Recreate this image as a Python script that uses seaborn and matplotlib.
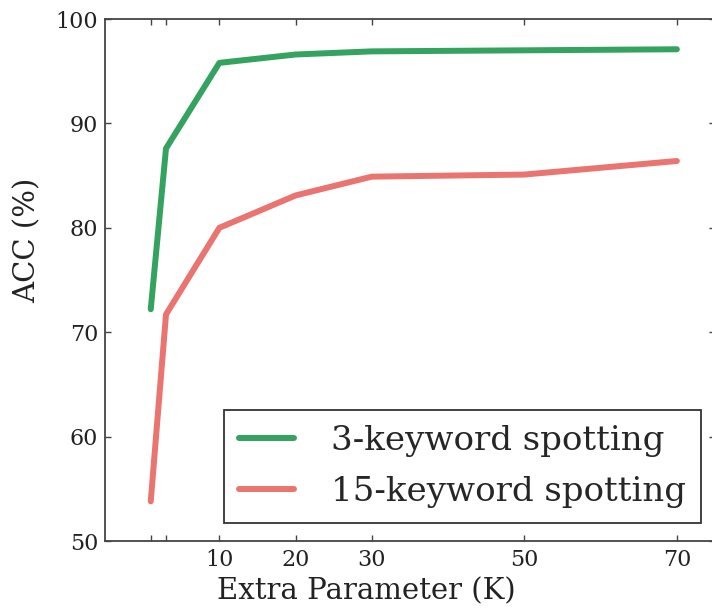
import matplotlib
matplotlib.use("Agg")
import matplotlib.pyplot as plt
import seaborn as sns
import pandas as pd

# Data
extra_params = [1, 3, 10, 20, 30, 50, 70]
acc_3kw = [72.2, 87.6, 95.8, 96.6, 96.9, 97.0, 97.1]
acc_15kw = [53.8, 71.7, 80.0, 83.1, 84.9, 85.1, 86.4]
series_names = ["3-keyword spotting", "15-keyword spotting"]
tick_positions = [1, 3, 10, 20, 30, 50, 70]
tick_labels = ["", "", "10", "20", "30", "50", "70"]
y_ticks = [50, 60, 70, 80, 90, 100]

df = pd.DataFrame({
    "K": extra_params * 2,
    "ACC": acc_3kw + acc_15kw,
    "series": [series_names[0]] * len(extra_params) + [series_names[1]] * len(extra_params),
})

sns.set_style("ticks")
plt.rcParams["font.family"] = ["DejaVu Serif"]

fig = plt.figure(figsize=(7.12, 6.10), dpi=100)
ax = fig.add_axes([105 / 712, 69 / 610, 610 / 712, 522 / 610])

palette = {series_names[0]: "#33a35f", series_names[1]: "#ea7470"}
sns.lineplot(data=df, x="K", y="ACC", hue="series", palette=palette,
             linewidth=4.3, ax=ax, legend=True)

ax.set_xlim(-5, 75)
ax.set_ylim(50, 100)
ax.set_xticks(tick_positions)
ax.set_xticklabels(tick_labels)
ax.set_yticks(y_ticks)
ax.tick_params(direction="in", length=4, width=1, colors="#444444",
               labelcolor="#222222", labelsize=16, top=True, right=True)
ax.tick_params(axis="x", pad=6)
ax.tick_params(axis="y", pad=5)

for s in ax.spines.values():
    s.set_visible(True)
    s.set_linewidth(1.3)
    s.set_color("#444444")

ax.set_xlabel("Extra Parameter (K)", fontsize=21, color="#222222")
ax.set_ylabel("ACC (%)", fontsize=21, color="#222222")
ax.xaxis.set_label_coords(0.428, -0.069)
ax.yaxis.set_label_coords(-0.104, 0.575)

leg = ax.legend(loc="lower right", fontsize=24.5, frameon=True, fancybox=False,
                edgecolor="#333333", framealpha=1, handlelength=1.6,
                handletextpad=1.1, borderpad=0.44, labelspacing=0.56,
                borderaxespad=0, bbox_to_anchor=(0.977, 0.034))
leg.get_frame().set_linewidth(1.3)
for line in leg.get_lines():
    line.set_linewidth(4.3)

fig.savefig("out.png", dpi=100)
